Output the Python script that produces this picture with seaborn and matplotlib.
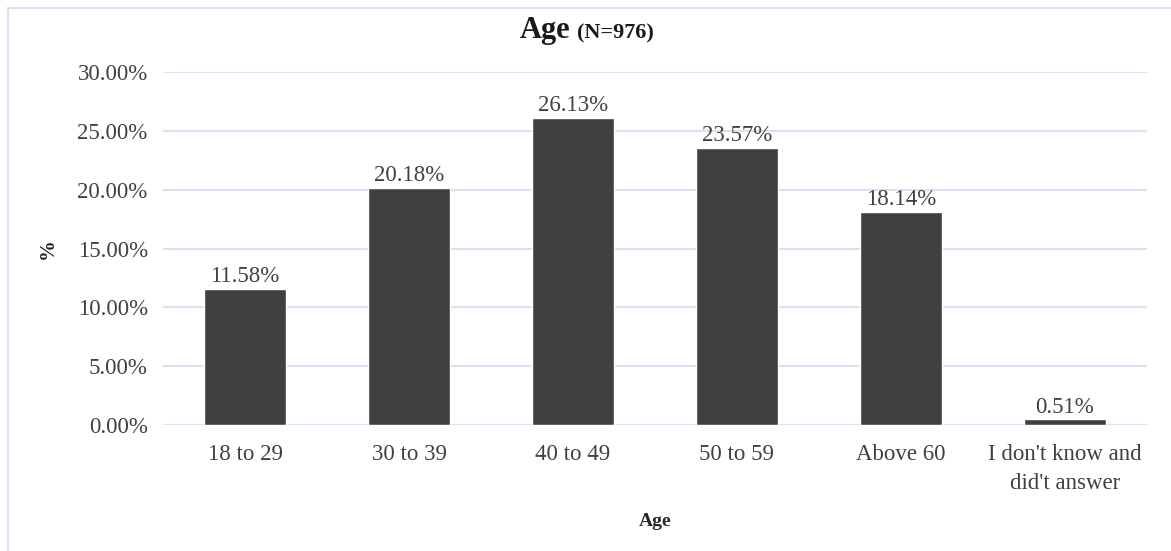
import matplotlib
matplotlib.use("Agg")
import matplotlib.pyplot as plt
from matplotlib.lines import Line2D
from matplotlib.ticker import FuncFormatter, MultipleLocator
import seaborn as sns
import pandas as pd

# Age distribution of respondents (percent of N=976)
categories = ["18 to 29", "30 to 39", "40 to 49", "50 to 59", "Above 60",
              "I don't know and\ndid't answer"]
shares = [11.58, 20.18, 26.13, 23.57, 18.14, 0.51]

df = pd.DataFrame({"Age": categories, "Share": shares})

sns.set_theme(style="white")
plt.rcParams["font.family"] = ["Liberation Serif", "DejaVu Serif"]

BAR = "#404040"
GRID = "#D9E2F3"
TEXT = "#404040"

fig = plt.figure(figsize=(11.71, 5.51), dpi=100)
ax = fig.add_axes([0.1392, 0.2287, 0.8403, 0.6406])

sns.barplot(data=df, x="Age", y="Share", color=BAR, width=0.5,
            saturation=1, ax=ax, zorder=3)

ax.set_xlim(-0.5, len(categories) - 0.5)
ax.set_ylim(0, 30)
ax.yaxis.set_major_locator(MultipleLocator(5))
ax.yaxis.set_major_formatter(FuncFormatter(lambda v, _: f"{v:.2f}%"))
ax.grid(axis="y", color=GRID, linewidth=1.5, zorder=0)
ax.grid(axis="x", visible=False)
for s in ax.spines.values():
    s.set_visible(False)

ax.tick_params(axis="both", length=0, labelsize=16.5, labelcolor=TEXT)
ax.tick_params(axis="y", pad=11)
ax.tick_params(axis="x", pad=14)
for lbl in ax.get_xticklabels():
    lbl.set_linespacing(1.45)

ax.bar_label(ax.containers[0], labels=[f"{v:.2f}%" for v in shares],
             padding=1, fontsize=16.5, color=TEXT)

ax.set_xlabel("Age", fontsize=14, fontweight="bold", color="#262626", labelpad=14)
ax.set_ylabel("%", fontsize=15, fontweight="bold", color="#262626", labelpad=14)

# Title: large "Age" followed by smaller sample size
fig.text(0.487, 0.945, "Age", fontsize=22, fontweight="bold", color="#1a1a1a",
         ha="right", va="center")
fig.text(0.487 + 0.006, 0.94, "(N=976)", fontsize=16, fontweight="bold",
         color="#1a1a1a", ha="left", va="center")

# Thin frame along the top and left of the chart area
fig.add_artist(Line2D([8 / 1171, 1.0], [1 - 8 / 551, 1 - 8 / 551],
                      transform=fig.transFigure, color=GRID, linewidth=1.5))
fig.add_artist(Line2D([8 / 1171, 8 / 1171], [0.0, 1 - 8 / 551],
                      transform=fig.transFigure, color=GRID, linewidth=1.5))

fig.savefig("out.png", dpi=100, facecolor="white")
